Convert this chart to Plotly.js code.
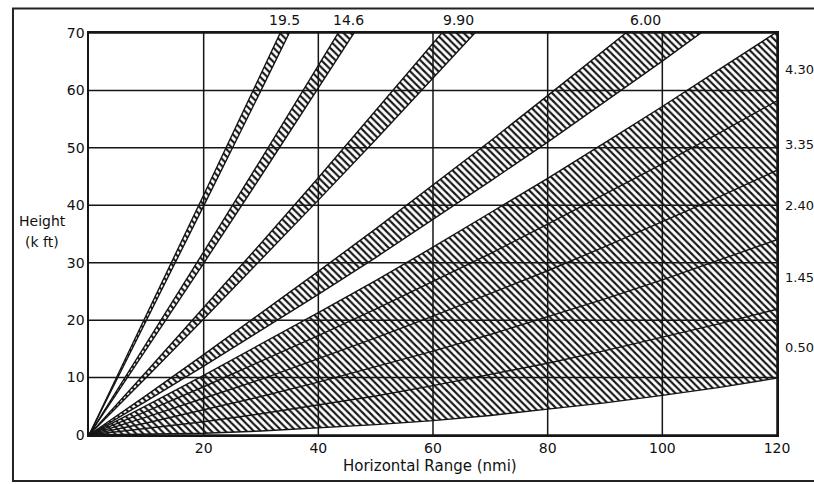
<!DOCTYPE html>
<html><head><meta charset="utf-8">
<script src="https://cdn.plot.ly/plotly-3.0.1.min.js"></script>
<style>html,body{margin:0;padding:0;background:#fff}#chart{width:814px;height:484px}</style>
</head><body><div id="chart"></div>
<script>
// Horizontal range (nmi) at which edge heights were read
const rangeNmi = [0,10,20,30,40,50,60,70,80,90,100,110,120];

// Beam edge heights (k ft)
const edge050Lo = [0,0.1,0.3,0.7,1.2,1.8,2.5,3.4,4.5,5.6,6.9,8.3,9.9];
const edge050Hi = [0,1.1,2.3,3.7,5.2,6.8,8.6,10.5,12.5,14.7,17.0,19.4,21.9];
const edge145Hi = [0,2.1,4.4,6.7,9.2,11.9,14.6,17.5,20.6,23.7,27.0,30.5,34.0];
const edge240Hi = [0,3.1,6.4,9.7,13.3,16.9,20.7,24.6,28.6,32.8,37.1,41.5,46.1];
const edge335Hi = [0,4.1,8.4,12.8,17.3,21.9,26.7,31.6,36.7,41.9,47.2,52.6,58.2];
const edge430Hi = [0,5.1,10.4,15.8,21.3,26.9,32.7,38.7,44.7,50.9,57.2,63.7,70.2];
const edge600Lo = [0,5.9,12.0,18.2,24.5,30.9,37.5,44.2,51.0,58.0,65.1,72.4];
const edge600Hi = [0,6.9,14.0,21.2,28.5,35.9,43.5,51.2,59.1,67.0,75.1];
const edge990Lo = [0,10.0,20.2,30.5,40.9,51.4,62.1,72.9];
const edge990Hi = [0,11.0,22.2,33.4,44.8,56.4,68.0,79.9];
const edge146Lo = [0,14.9,29.9,45.1,60.4,75.8];
const edge146Hi = [0,15.9,31.9,48.0,64.3,80.7];
const edge195Lo = [0,19.9,39.9,60.0,80.3];
const edge195Hi = [0,20.8,41.8,62.9,84.1];

const sideLabels = ['4.30','3.35','2.40','1.45','0.50'];
const topLabels = ['19.5','14.6','9.90','6.00'];
const xTicks = [20,40,60,80,100,120];
const yTicks = [0,10,20,30,40,50,60,70];

// label placement (layout only)
const sideLabelY = [63.7,50.6,40.0,27.5,15.2];
const topLabelX = [34.1,45.2,64.5,97.0];

const ink = '#151515';
const pat = {shape:'\\', size:5, solidity:0.42, fgcolor:ink, bgcolor:'#ffffff'};
function edge(y, fill){
  const t = {x: rangeNmi.slice(0, y.length), y: y, type:'scatter', mode:'lines',
    line:{color:ink, width:1.4}, hoverinfo:'skip', showlegend:false};
  if (fill){ t.fill='tonexty'; t.fillcolor='#ffffff'; t.fillpattern=pat; }
  return t;
}
const traces = [
  edge(edge050Lo,false), edge(edge050Hi,true), edge(edge145Hi,true),
  edge(edge240Hi,true), edge(edge335Hi,true), edge(edge430Hi,true),
  edge(edge600Lo,false), edge(edge600Hi,true),
  edge(edge990Lo,false), edge(edge990Hi,true),
  edge(edge146Lo,false), edge(edge146Hi,true),
  edge(edge195Lo,false), edge(edge195Hi,true)
];

const fnt = {family:'DejaVu Sans', size:14, color:'#111'};
const ann = [];
sideLabels.forEach((t,i)=>ann.push({text:t, xref:'paper', x:1, xshift:6, xanchor:'left',
  yref:'y', y:sideLabelY[i], yanchor:'middle', showarrow:false,
  font:{family:'DejaVu Sans', size:13, color:'#111'}}));
topLabels.forEach((t,i)=>ann.push({text:t, xref:'x', x:topLabelX[i], xanchor:'center',
  yref:'paper', y:1, yshift:13, yanchor:'middle', showarrow:false, font:fnt}));
ann.push({text:'Height', xref:'paper', x:-0.068, yref:'paper', y:0.532, xanchor:'center', yanchor:'middle', showarrow:false, font:fnt});
ann.push({text:'(k ft)', xref:'paper', x:-0.068, yref:'paper', y:0.479, xanchor:'center', yanchor:'middle', showarrow:false, font:fnt});
ann.push({text:'Horizontal Range (nmi)', xref:'paper', x:0.4956, yref:'paper', y:-0.077, xanchor:'center', yanchor:'middle', showarrow:false, font:{family:'DejaVu Sans', size:15, color:'#111'}});

// grid lines drawn above the hatching, at the tick values
const shapes = [];
xTicks.forEach(v=>shapes.push({type:'line', xref:'x', yref:'paper', x0:v, x1:v, y0:0, y1:1,
  line:{color:ink, width:1.5}, layer:'above'}));
yTicks.forEach(v=>shapes.push({type:'line', xref:'paper', yref:'y', x0:0, x1:1, y0:v, y1:v,
  line:{color:ink, width:1.5}, layer:'above'}));
shapes.push({type:'rect', xref:'paper', yref:'paper', x0:-0.1105, x1:1.3, y0:-0.1144, y1:1.061,
  line:{color:'#222', width:2}, fillcolor:'rgba(0,0,0,0)'});

const axisCommon = {showgrid:false, showline:true, mirror:true, layer:'above traces',
  linecolor:ink, linewidth:1.6, zeroline:false, ticks:'', tickfont:fnt, fixedrange:true};

const layout = {
  width:814, height:484,
  margin:{l:89, r:37, t:33, b:49, pad:0},
  paper_bgcolor:'#ffffff', plot_bgcolor:'#ffffff',
  xaxis: Object.assign({range:[0,120], tickvals:xTicks, ticktext:xTicks.map(String)}, axisCommon),
  yaxis: Object.assign({range:[0,70], tickvals:yTicks, ticktext:yTicks.map(String)}, axisCommon),
  annotations: ann,
  shapes: shapes,
  showlegend:false
};
Plotly.newPlot('chart', traces, layout, {staticPlot:true, displayModeBar:false});
</script></body></html>
